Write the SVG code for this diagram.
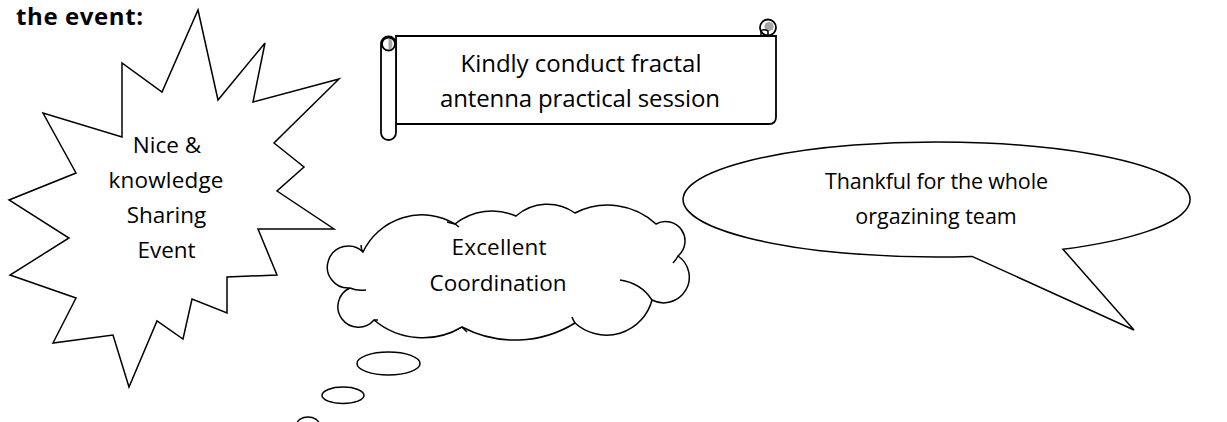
<svg xmlns="http://www.w3.org/2000/svg" width="1227" height="422" viewBox="0 0 1227 422">
<style>
.sh{fill:#fff;stroke:#000;stroke-width:1.5;stroke-linejoin:miter}
.sc{fill:#fff;stroke:#000;stroke-width:1.8}
.hk{fill:none;stroke:#000;stroke-width:1.5}
.t{font-family:"Open Sans","Liberation Sans",sans-serif;fill:#000;text-anchor:middle}
.ttl{font-family:"Open Sans","Liberation Sans",sans-serif;font-weight:bold;font-size:24px;fill:#000}
</style>
<rect width="1227" height="422" fill="#fff"/>
<text class="ttl" x="16" y="24.5" textLength="127">the event:</text>

<g id="starburst">
<polygon class="sh" points="198,10 218,100 265,43 253,102 339,79 274,143 304,167 277,191 334,229 258,229 277,275 227,277 227,313 192,299 183,339 157,321 129,387 113,335 53,343 76,298 10,275 69,238 9,200 76,173 43,113 122,137 122,63 162,92"/>
<text class="t" font-size="22.5" x="167" y="152.5">Nice &amp;</text>
<text class="t" font-size="22.5" x="166" y="187.5" textLength="115">knowledge</text>
<text class="t" font-size="22.5" x="166.5" y="222.5">Sharing</text>
<text class="t" font-size="22.5" x="166.5" y="257.5">Event</text>
</g>

<g id="scroll">
<path class="sc" d="M396,36 H776 V117 Q776,124 769,124 H396 Z"/>
<circle class="sc" cx="768" cy="27.5" r="8"/>
<circle cx="769" cy="26.5" r="4.6" fill="#a6a6a6"/>
<path class="hk" d="M761,36 V31 Q762,29 766,30 L768,31 V36" fill="#fff"/>
<rect class="sc" x="381" y="36.5" width="15" height="103.5" rx="7.5"/>
<circle class="sc" cx="388.5" cy="44" r="6.5"/>
<path d="M388.5,38.5 A4 5.5 0 0 1 388.5,49.5 Z" fill="#a6a6a6"/>
<text class="t" font-size="24" x="581" y="72" textLength="241">Kindly conduct fractal</text>
<text class="t" font-size="24" x="580" y="107" textLength="280">antenna practical session</text>
</g>

<g id="cloud">
<path class="sh" d="M363,252 A65,65 0 0 1 455,224 A60,60 0 0 1 516,216 A48,48 0 0 1 575,213 A71,71 0 0 1 656,224 A19.5,19.5 0 0 1 678,256 A25.6,25.6 0 0 1 652,300 A47,47 0 0 1 575,323 A114,114 0 0 1 462,327 A76,76 0 0 1 374,320 A20.5,20.5 0 1 1 350,288 A21,21 0 1 1 363,252 Z"/>
<path class="hk" d="M350,288 Q357,291 366,290 M363,252 Q361,249 361,245 M447,222 Q451,223 455,224 L459,227 M678,256 Q676,260 673,263 M620,280 Q641,283 652,300 M575,323 Q573,320 572,317 M462,327 Q465,330 467,332 M374,320 Q376,320 378,320"/>
<text class="t" font-size="22.5" x="499" y="255" textLength="95">Excellent</text>
<text class="t" font-size="22.5" x="498" y="291" textLength="137">Coordination</text>
</g>

<g id="thought-bubbles">
<ellipse class="sh" cx="388.5" cy="363.5" rx="31.5" ry="11.5"/>
<ellipse class="sh" cx="343" cy="395.3" rx="21" ry="8.3"/>
<ellipse class="sh" cx="308" cy="424" rx="11" ry="7"/>
</g>

<g id="speech">
<path class="sh" d="M972,256.4 L1134,330 L1063,249.3 A253.5,57.5 0 1 0 972,256.4 Z"/>
<text class="t" font-size="21.5" x="936.5" y="189" textLength="223">Thankful for the whole</text>
<text class="t" font-size="21.5" x="936" y="224">orgazining team</text>
</g>

<g id="connectors"></g>
</svg>
